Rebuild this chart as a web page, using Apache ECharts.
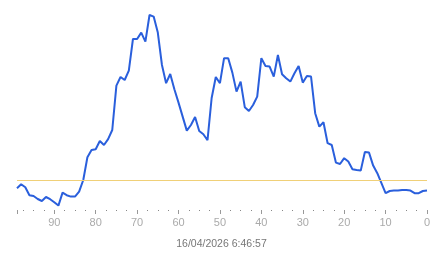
<!DOCTYPE html>
<html><head><meta charset="utf-8">
<script src="https://cdn.jsdelivr.net/npm/echarts@6/dist/echarts.min.js"></script>
<style>html,body{margin:0;padding:0;background:#fff}#c{width:443px;height:258px}</style>
</head><body><div id="c"></div>
<script>
// x positions: 99 down to 0 (index 0 is x = 99)
const xValues = [99,98,97,96,95,94,93,92,91,90,89,88,87,86,85,84,83,82,81,80,79,78,77,76,75,74,73,72,71,70,69,68,67,66,65,64,63,62,61,60,59,58,57,56,55,54,53,52,51,50,49,48,47,46,45,44,43,42,41,40,39,38,37,36,35,34,33,32,31,30,29,28,27,26,25,24,23,22,21,20,19,18,17,16,15,14,13,12,11,10,9,8,7,6,5,4,3,2,1,0];
const seriesValues = [10.9,12.9,11.4,7.4,7.0,5.5,4.5,6.5,5.4,3.9,2.2,8.7,7.4,6.7,6.7,9.2,15.0,26.4,30.0,30.4,34.5,32.5,35.4,40.0,62.2,66.5,65.0,69.7,85.5,85.5,88.7,84.2,97.5,96.7,88.7,72.5,63.4,68.0,60.4,53.7,46.7,39.7,42.5,46.5,39.5,37.9,34.9,56.0,66.5,63.4,75.9,75.9,68.7,59.2,64.2,51.4,49.5,52.5,56.7,75.9,72.0,71.7,66.7,77.5,67.9,65.9,64.2,68.4,72.0,63.7,67.0,66.7,48.4,41.7,43.9,33.4,32.5,23.7,23.0,25.9,24.2,20.4,20.0,19.7,29.0,28.7,22.2,18.4,13.4,8.4,9.5,9.7,9.7,10.0,10.0,9.7,8.4,8.4,9.5,9.7];
const thresholdValue = 15;
const titleText = '16/04/2026 6:46:57';

const chart = echarts.init(document.getElementById('c'), null, {renderer:'canvas'});
chart.setOption({
  animation:false,
  title:{text:titleText,left:'center',top:234,textStyle:{fontSize:10.5,fontWeight:'normal',color:'#777',fontFamily:'Liberation Sans, Arial, sans-serif'}},
  grid:{left:17,right:16,top:10,bottom:48},
  xAxis:{type:'value',inverse:true,min:0,max:99,interval:10,offset:2,
    axisLine:{show:false},
    axisTick:{show:true,length:4,lineStyle:{color:'#999'}},
    minorTick:{show:true,splitNumber:4,length:1,lineStyle:{color:'#888'}},
    splitLine:{show:false},
    axisLabel:{margin:5,fontSize:11,color:'#aaa',fontFamily:'Liberation Sans, Arial, sans-serif',showMaxLabel:false}
  },
  yAxis:{type:'value',min:0,max:100,show:false,splitLine:{show:false}},
  series:[{
    type:'line',data:xValues.map((x,i)=>[x,seriesValues[i]]),
    showSymbol:false,lineStyle:{color:'#2a5fdc',width:2},
    markLine:{silent:true,symbol:'none',label:{show:false},lineStyle:{color:'#f0d078',width:1,type:'solid'},
      data:[[{coord:[99,thresholdValue]},{coord:[0,thresholdValue]}]]}
  }]
});
</script></body></html>
